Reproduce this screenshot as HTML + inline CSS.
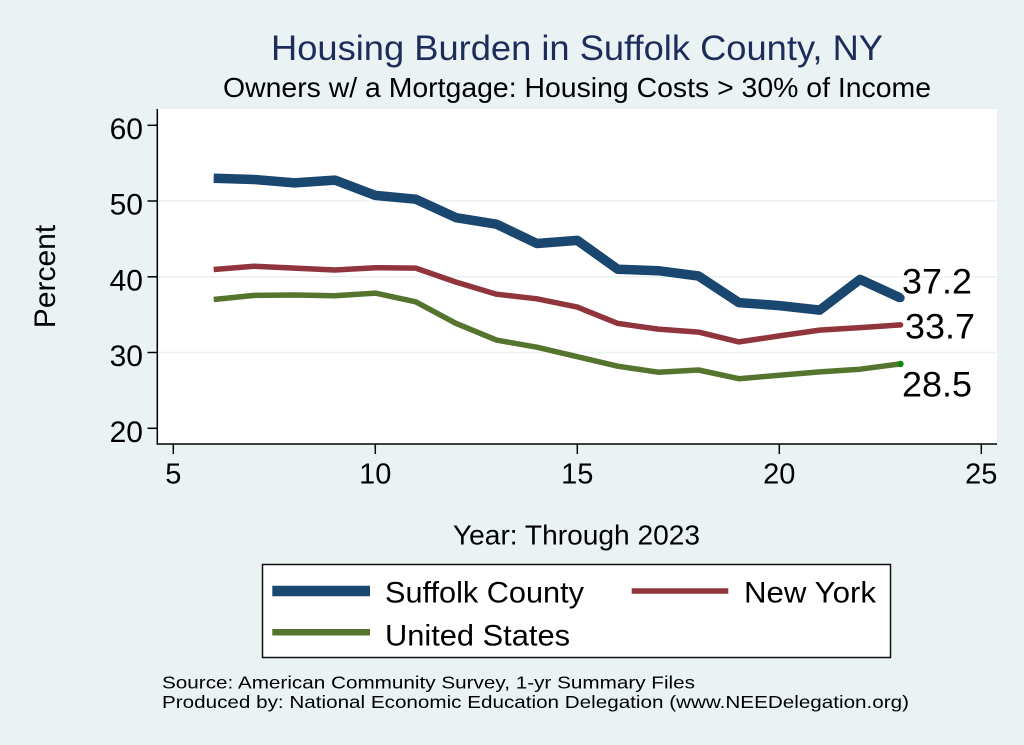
<!DOCTYPE html>
<html>
<head>
<meta charset="utf-8">
<style>
  html, body { margin:0; padding:0; background:#EAF2F3; }
  svg { display:block; }
  text { font-family: "Liberation Sans", Arial, sans-serif; }
</style>
</head>
<body>
<svg width="1024" height="745" viewBox="0 0 1024 745" xmlns="http://www.w3.org/2000/svg">
  <rect x="0" y="0" width="1024" height="745" fill="#EAF2F3"/>

  <!-- Titles -->
  <text x="577" y="60" text-anchor="middle" font-size="35" fill="#1c2d5c" textLength="612" lengthAdjust="spacingAndGlyphs">Housing Burden in Suffolk County, NY</text>
  <text x="577" y="97" text-anchor="middle" font-size="28" fill="#000" textLength="708" lengthAdjust="spacingAndGlyphs">Owners w/ a Mortgage: Housing Costs &gt; 30% of Income</text>

  <!-- Plot region -->
  <rect x="157.3" y="109" width="839.7" height="335" fill="#ffffff"/>

  <!-- Gridlines -->
  <g stroke="#EAF2F3" stroke-width="1.6">
    <line x1="158" y1="201" x2="997" y2="201"/>
    <line x1="158" y1="276.8" x2="997" y2="276.8"/>
    <line x1="158" y1="352.5" x2="997" y2="352.5"/>
  </g>

  <!-- Axes -->
  <g stroke="#000" stroke-width="1.5" fill="none">
    <line x1="157.3" y1="109" x2="157.3" y2="444.7"/>
    <line x1="156.6" y1="444" x2="997" y2="444"/>
    <!-- y ticks -->
    <line x1="147.5" y1="125.3" x2="157.3" y2="125.3"/>
    <line x1="147.5" y1="201" x2="157.3" y2="201"/>
    <line x1="147.5" y1="276.8" x2="157.3" y2="276.8"/>
    <line x1="147.5" y1="352.5" x2="157.3" y2="352.5"/>
    <line x1="147.5" y1="428.3" x2="157.3" y2="428.3"/>
    <!-- x ticks -->
    <line x1="173.3" y1="444" x2="173.3" y2="454"/>
    <line x1="375.3" y1="444" x2="375.3" y2="454"/>
    <line x1="577.3" y1="444" x2="577.3" y2="454"/>
    <line x1="779.3" y1="444" x2="779.3" y2="454"/>
    <line x1="981.3" y1="444" x2="981.3" y2="454"/>
  </g>

  <!-- Y tick labels -->
  <g font-size="30" text-anchor="end" fill="#000">
    <text x="143" y="139">60</text>
    <text x="143" y="214.5">50</text>
    <text x="143" y="290.3">40</text>
    <text x="143" y="366">30</text>
    <text x="143" y="441.8">20</text>
  </g>
  <!-- X tick labels -->
  <g font-size="29" text-anchor="middle" fill="#000">
    <text x="173.3" y="483.3">5</text>
    <text x="375.3" y="483.3">10</text>
    <text x="577.3" y="483.3">15</text>
    <text x="779.3" y="483.3">20</text>
    <text x="981.3" y="483.3">25</text>
  </g>

  <!-- Axis titles -->
  <text transform="translate(55,276.5) rotate(-90)" text-anchor="middle" font-size="30" fill="#000">Percent</text>
  <text x="576.5" y="544.3" text-anchor="middle" font-size="28" fill="#000" textLength="247" lengthAdjust="spacingAndGlyphs">Year: Through 2023</text>

  <!-- Series -->
  <polyline fill="none" stroke="#55752F" stroke-width="5.5" stroke-linejoin="round"
    points="213.7,299.5 254.1,295.4 294.5,295.0 334.9,295.7 375.3,293.1 415.7,301.8 456.1,323.4 496.5,340.1 536.9,347.2 577.3,356.7 617.7,366.2 658.1,372.2 698.5,370.0 738.9,378.7 779.3,375.3 819.7,371.9 860.1,369.2 900.5,363.9"/>
  <polyline fill="none" stroke="#90353B" stroke-width="5.5" stroke-linejoin="round"
    points="213.7,269.5 254.1,266.2 294.5,268.1 334.9,270.0 375.3,267.7 415.7,268.1 456.1,282.1 496.5,294.2 536.9,298.8 577.3,307.1 617.7,323.4 658.1,329.1 698.5,332.1 738.9,341.9 779.3,335.9 819.7,330.1 860.1,327.6 900.5,324.9"/>
  <polyline fill="none" stroke="#1A476F" stroke-width="9.5" stroke-linejoin="round"
    points="213.7,178.3 254.1,179.5 294.5,182.9 334.9,180.1 375.3,195.4 415.7,199.2 456.1,217.7 496.5,224.2 536.9,243.5 577.3,240.4 617.7,269.2 658.1,270.7 698.5,276.0 738.9,302.6 779.3,305.6 819.7,310.1 860.1,279.4 900.5,298.0"/>

  <!-- End markers -->
  <circle cx="900.5" cy="298.0" r="4.2" fill="#1A476F"/>
  <circle cx="900.5" cy="324.9" r="2.8" fill="#90353B"/>
  <circle cx="900.5" cy="363.9" r="3.2" fill="#0a8a0a"/>

  <!-- End labels -->
  <g font-size="35" fill="#000">
    <text x="902" y="293.3" textLength="70" lengthAdjust="spacingAndGlyphs">37.2</text>
    <text x="905" y="338.3" textLength="70" lengthAdjust="spacingAndGlyphs">33.7</text>
    <text x="902" y="396.7" textLength="70" lengthAdjust="spacingAndGlyphs">28.5</text>
  </g>

  <!-- Legend -->
  <rect x="262.5" y="564.5" width="628" height="93" fill="#ffffff" stroke="#111" stroke-width="1.5"/>
  <line x1="272.3" y1="591" x2="370" y2="591" stroke="#1A476F" stroke-width="10.5"/>
  <line x1="631.7" y1="591" x2="728.3" y2="591" stroke="#90353B" stroke-width="5.5"/>
  <line x1="272.3" y1="632.3" x2="370" y2="632.3" stroke="#55752F" stroke-width="6.5"/>
  <g font-size="29.5" fill="#000">
    <text x="385" y="602.7" textLength="199" lengthAdjust="spacingAndGlyphs">Suffolk County</text>
    <text x="744" y="602.7" textLength="132" lengthAdjust="spacingAndGlyphs">New York</text>
    <text x="385" y="645.7" textLength="185" lengthAdjust="spacingAndGlyphs">United States</text>
  </g>

  <!-- Footer -->
  <g font-size="17.5" fill="#000">
    <text x="162" y="688.5" textLength="533" lengthAdjust="spacingAndGlyphs">Source: American Community Survey, 1-yr Summary Files</text>
    <text x="162" y="708" textLength="747" lengthAdjust="spacingAndGlyphs">Produced by: National Economic Education Delegation (www.NEEDelegation.org)</text>
  </g>
</svg>
</body>
</html>
